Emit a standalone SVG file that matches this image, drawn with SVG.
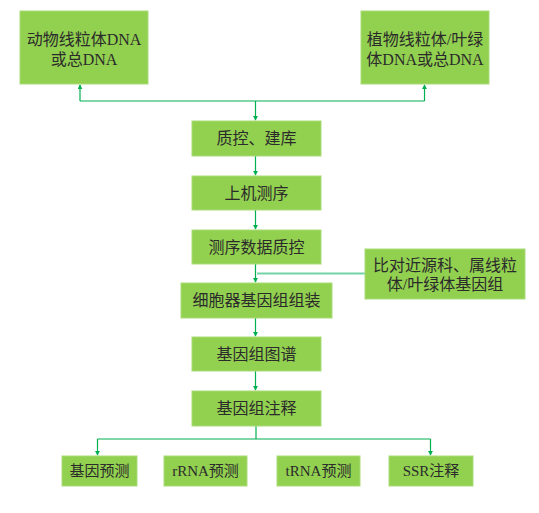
<svg xmlns="http://www.w3.org/2000/svg" width="539" height="513" viewBox="0 0 539 513">
<style>
.box{fill:#92D050;stroke:#A9DC78;stroke-width:1}
.t{font-family:"Liberation Serif","Noto Sans CJK SC",serif;font-size:16px;fill:#2b2b2b;text-anchor:middle;dominant-baseline:central}
.s{font-size:15px}
.c{fill:none;stroke:#00B050;stroke-width:1.2}
.c2{fill:none;stroke:#74D3A6;stroke-width:2}
</style>
<defs>
<marker id="ah" viewBox="0 0 6 6" refX="5" refY="3" markerWidth="5" markerHeight="5" orient="auto" markerUnits="userSpaceOnUse">
<path d="M0,0 L6,3 L0,6 z" fill="#00B050"/>
</marker>
</defs>
<rect width="539" height="513" fill="#ffffff"/>
<g id="connectors">
<path class="c" d="M255.5,101 V120" marker-end="url(#ah)"/>
<path class="c" d="M80,101 H424.5"/>
<path class="c" d="M80,101 V85" marker-end="url(#ah)"/>
<path class="c" d="M424.5,101 V85" marker-end="url(#ah)"/>
<path class="c" d="M255.5,156 V175" marker-end="url(#ah)"/>
<path class="c" d="M255.5,210 V229" marker-end="url(#ah)"/>
<path class="c" d="M255.5,264 V282" marker-end="url(#ah)"/>
<path class="c2" d="M365,273.5 H257"/>
<path class="c" d="M255.5,318 V336" marker-end="url(#ah)"/>
<path class="c" d="M255.5,371 V390" marker-end="url(#ah)"/>
<path class="c" d="M256,426 V439"/>
<path class="c" d="M97.5,439 H430.5"/>
<path class="c" d="M97.5,439 V455" marker-end="url(#ah)"/>
<path class="c" d="M430.5,439 V455" marker-end="url(#ah)"/>
</g>
<g id="n1"><rect class="box" x="20" y="11" width="128" height="73"/><text class="t" x="84" y="39">动物线粒体DNA</text><text class="t" x="84" y="59">或总DNA</text></g>
<g id="n2"><rect class="box" x="361" y="11" width="128" height="73"/><text class="t" x="425" y="39">植物线粒体/叶绿</text><text class="t" x="425" y="59">体DNA或总DNA</text></g>
<g id="n3"><rect class="box" x="192" y="121" width="129" height="35"/><text class="t" x="256.5" y="138.5">质控、建库</text></g>
<g id="n4"><rect class="box" x="192" y="176" width="129" height="34"/><text class="t" x="256.5" y="193">上机测序</text></g>
<g id="n5"><rect class="box" x="192" y="230" width="129" height="34"/><text class="t" x="256.5" y="247">测序数据质控</text></g>
<g id="n6"><rect class="box" x="365" y="249" width="160" height="50"/><text class="t" x="445" y="265">比对近源科、属线粒</text><text class="t" x="445" y="284">体/叶绿体基因组</text></g>
<g id="n7"><rect class="box" x="181" y="283" width="151" height="35"/><text class="t" x="256.5" y="300.5">细胞器基因组组装</text></g>
<g id="n8"><rect class="box" x="192" y="337" width="129" height="34"/><text class="t" x="256.5" y="354">基因组图谱</text></g>
<g id="n9"><rect class="box" x="192" y="391" width="129" height="35"/><text class="t" x="256.5" y="408.5">基因组注释</text></g>
<g id="n10"><rect class="box" x="62" y="456" width="75" height="30"/><text class="t s" x="99.5" y="471">基因预测</text></g>
<g id="n11"><rect class="box" x="164" y="456" width="83" height="30"/><text class="t s" x="205.5" y="471">rRNA预测</text></g>
<g id="n12"><rect class="box" x="277" y="456" width="83" height="30"/><text class="t s" x="318.5" y="471">tRNA预测</text></g>
<g id="n13"><rect class="box" x="389" y="456" width="84" height="30"/><text class="t s" x="431" y="471">SSR注释</text></g>
</svg>
